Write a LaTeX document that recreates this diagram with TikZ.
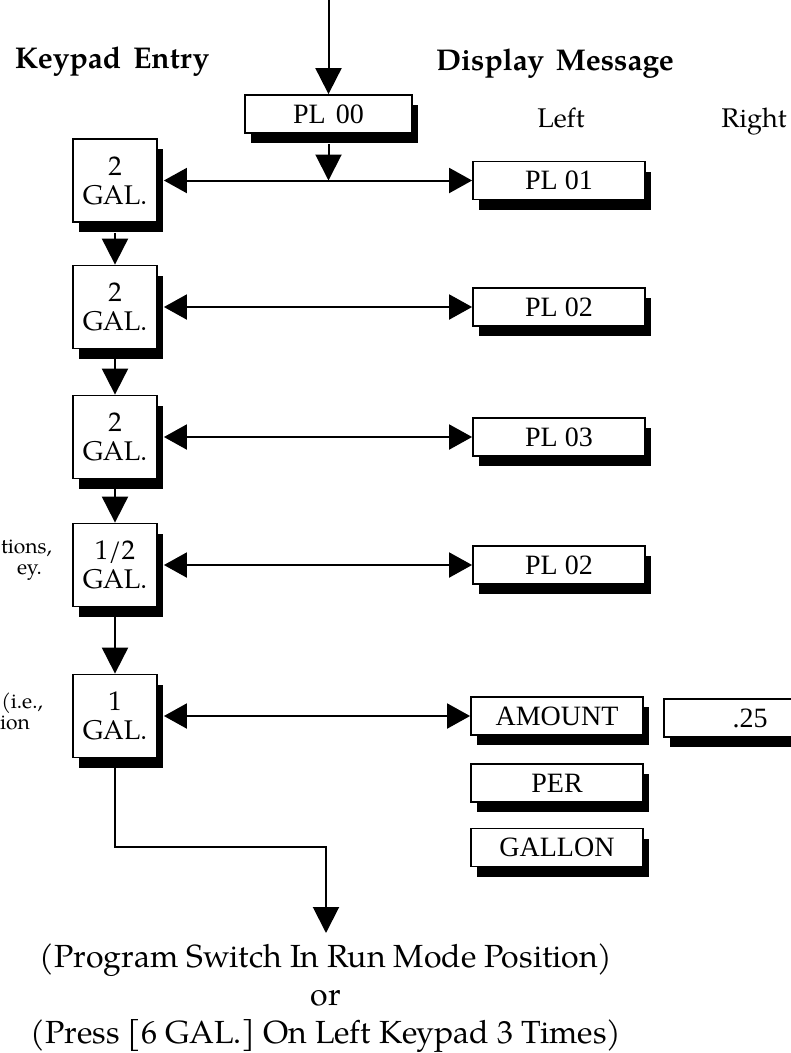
\documentclass[tikz,border=0pt]{standalone}
\usepackage{fontspec}
\setmainfont{texgyrepagella}[Extension=.otf, UprightFont=*-regular, BoldFont=*-bold, ItalicFont=*-italic, BoldItalicFont=*-bolditalic]
\newfontfamily\timesf{Liberation Serif}
\usetikzlibrary{arrows.meta,shadows}

\tikzset{
  shad/.style={drop shadow={shadow xshift=6pt, shadow yshift=-10pt, fill=black, opacity=1}},
  keybox/.style={shad, draw, line width=1.8pt, fill=white, minimum width=84pt, minimum height=83pt,
    inner sep=0pt, align=center, font=\fontsize{27}{29}\selectfont},
  dispbox/.style={shad, draw, line width=1.8pt, fill=white, minimum width=172pt, minimum height=38pt,
    inner sep=0pt, font=\timesf\fontsize{28}{30}\selectfont},
  head/.style={anchor=base, font=\bfseries\fontsize{30}{32}\selectfont},
  sub/.style={anchor=base, font=\fontsize{27}{29}\selectfont},
  margin/.style={anchor=base east, inner sep=0pt, font=\fontsize{21}{23}\selectfont},
  bottomtxt/.style={anchor=base, inner sep=0pt, font=\fontsize{32}{38}\selectfont},
  arr/.style={line width=2pt, -{Triangle[length=26pt,width=26pt]}},
  dbl/.style={line width=2pt, {Triangle[length=23pt,width=25pt]}-{Triangle[length=23pt,width=25pt]}}
}

\begin{document}
\begin{tikzpicture}[x=1pt,y=-1pt]
\useasboundingbox (0,0) rectangle (791,1053);

% headers
\node[head] (hk) at (112,68) {Keypad\hspace{12pt}Entry};
\node[head] (hd) at (555,70) {Display\hspace{12pt}Message};
\node[sub] (hl) at (561,127) {Left};
\node[sub] (hr) at (754,127) {Right};

% margin fragments
\node[margin] (m1) at (52,553) {tions,};
\node[margin] (m2) at (42,574) {ey.};
\node[margin] (m3) at (43,708) {(i.e.,};
\node[margin] (m4) at (30,729) {ion};

% top
\coordinate (top) at (328.5,0);
\node[dispbox, minimum width=167pt] (pl00) at (328.5,114) {PL\hspace{10pt}00};

% keypad boxes
\node[keybox] (k1) at (115,180.5) {2\\GAL.};
\node[keybox] (k2) at (115,307) {2\\GAL.};
\node[keybox] (k3) at (115,437) {2\\GAL.};
\node[keybox] (k4) at (115,565) {1/2\\GAL.};
\node[keybox] (k5) at (115,716) {1\\GAL.};

% display boxes
\node[dispbox] (d1) at (559,180.5) {PL 01};
\node[dispbox] (d2) at (559,307) {PL 02};
\node[dispbox] (d3) at (559,437) {PL 03};
\node[dispbox] (d4) at (559,565) {PL 02};
\node[dispbox] (d5) at (557,716) {AMOUNT};
\node[dispbox] (d6) at (557,783) {PER};
\node[dispbox] (d7) at (557,847.5) {GALLON};
\node[dispbox] (r5) at (750,718) {.25};

% bottom text
\node[bottomtxt] (t1) at (326,967) {(Program Switch In Run Mode Position)};
\node[bottomtxt] (t2) at (326,1005) {or};
\node[bottomtxt] (t3) at (326,1043) {(Press [6 GAL.] On Left Keypad 3 Times)};

% connectors
\draw[arr] (top) -- (pl00.north);
\draw[arr] ([yshift=-10pt]pl00.south) -- (pl00.south |- d1.west);
\draw[dbl] ([xshift=6pt]k1.east) -- (d1.west);
\draw[dbl] ([xshift=6pt]k2.east) -- (d2.west);
\draw[dbl] ([xshift=6pt]k3.east) -- (d3.west);
\draw[dbl] ([xshift=6pt]k4.east) -- (d4.west);
\draw[dbl] ([xshift=6pt]k5.east) -- (d5.west);
\draw[arr] ([yshift=-10pt]k1.south) -- (k2.north);
\draw[arr] ([yshift=-10pt]k2.south) -- (k3.north);
\draw[arr] ([yshift=-10pt]k3.south) -- (k4.north);
\draw[arr] ([yshift=-10pt]k4.south) -- (k5.north);
\coordinate (bend) at (326,847);
\draw[arr] ([yshift=-10pt]k5.south) |- (bend) -- ([yshift=10pt]t1.north -| bend);
\end{tikzpicture}
\end{document}
